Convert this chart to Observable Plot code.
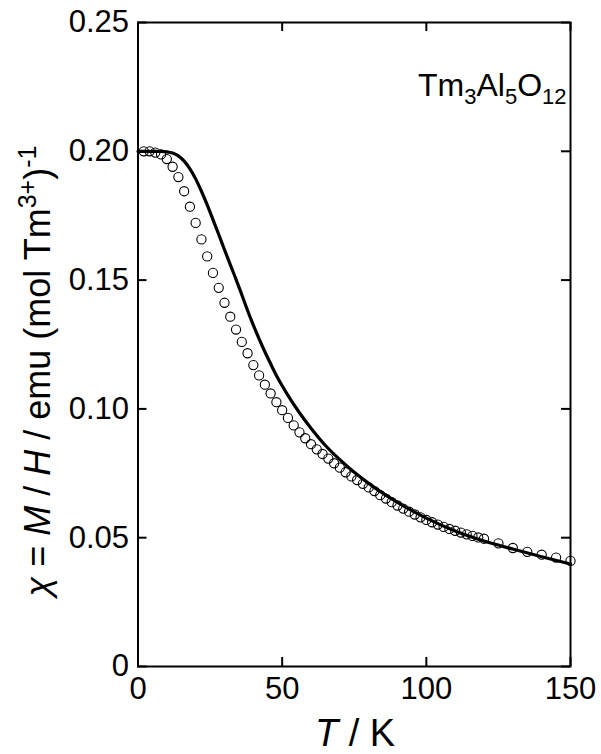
<!DOCTYPE html>
<html><head><meta charset="utf-8">
<script src="https://cdn.jsdelivr.net/npm/d3@7"></script>
<script src="https://cdn.jsdelivr.net/npm/@observablehq/plot@0.6"></script>
<style>body{margin:0;background:#fff;}</style>
</head><body><div id="chart"></div>
<script>
// Measured susceptibility (open circles)
const dataT = [2,4,6,8,10,12,14,16,18,20,22,24,26,28,30,32,34,36,38,40,42,44,46,48,50,52,54,56,58,60,62,64,66,68,70,72,74,76,78,80,82,84,86,88,90,92,94,96,98,100,102,104,106,108,110,112,114,116,118,120,125,130,135,140,145,150];
const dataChi = [0.2000,0.2000,0.1995,0.1988,0.1970,0.1940,0.1900,0.1845,0.1785,0.1722,0.1658,0.1592,0.1528,0.1470,0.1412,0.1358,0.1308,0.1260,0.1216,0.1170,0.1130,0.1094,0.1060,0.1026,0.0995,0.0965,0.0936,0.0909,0.0886,0.0863,0.0843,0.0825,0.0807,0.0789,0.0772,0.0754,0.0738,0.0724,0.0709,0.0695,0.0681,0.0665,0.0652,0.0638,0.0625,0.0613,0.0601,0.0590,0.0579,0.0569,0.0560,0.0551,0.0542,0.0534,0.0527,0.0520,0.0513,0.0507,0.0501,0.0496,0.0478,0.0460,0.0445,0.0434,0.0423,0.0410];
// Calculated curve (solid line)
const fitT = [0,4,8,10,12,14,16,18,20,22,24,26,28,30,32,34,36,38,40,42,44,46,48,50,53,56,60,65,70,75,80,85,90,95,100,110,120,130,140,150];
const fitChi = [0.2000,0.2000,0.2000,0.1998,0.1993,0.1982,0.1962,0.1932,0.1893,0.1845,0.1792,0.1735,0.1677,0.1618,0.1560,0.1503,0.1443,0.1382,0.1325,0.1272,0.1222,0.1175,0.1130,0.1090,0.1035,0.0985,0.0925,0.0858,0.0803,0.0754,0.0711,0.0672,0.0637,0.0605,0.0576,0.0526,0.0487,0.0456,0.0426,0.0398];
const xTicks = [0,50,100,150];
const yTicks = [0,0.05,0.10,0.15,0.20,0.25];
const yTickLabels = ["0","0.05","0.10","0.15","0.20","0.25"];

const points = dataT.map((t,i)=>({T:t, chi:dataChi[i]}));
const fit = fitT.map((t,i)=>({T:t, chi:fitChi[i]}));

const FONT = "'Liberation Sans', Arial, sans-serif";
const svg = Plot.plot({
  width: 601, height: 754,
  marginLeft: 137.5, marginRight: 31, marginTop: 22, marginBottom: 88,
  style: {fontFamily: FONT, background: "#fff", color: "#000", overflow: "visible"},
  x: {domain:[0,150], label: null},
  y: {domain:[0,0.25], label: null},
  marks: [
    Plot.axisX(xTicks, {tickSize: 0, tickPadding: 10, fontSize: 31, label: null}),
    Plot.axisY(yTicks, {tickSize: 0, tickPadding: 9, fontSize: 31, label: null,
      tickFormat: d => yTickLabels[yTicks.indexOf(d)]}),
    Plot.ruleX(xTicks, {x: d=>d, y1: () => 0, y2: () => 0, insetBottom: 9, strokeWidth: 2, stroke: "black"}),
    Plot.ruleX(xTicks, {x: d=>d, y1: () => 0.25, y2: () => 0.25, insetTop: 9, strokeWidth: 2, stroke: "black"}),
    Plot.ruleY(yTicks, {y: d=>d, x1: () => 0, x2: () => 0, insetRight: -9, strokeWidth: 2, stroke: "black"}),
    Plot.ruleY(yTicks, {y: d=>d, x1: () => 150, x2: () => 150, insetLeft: -9, strokeWidth: 2, stroke: "black"}),
    Plot.frame({stroke: "black", strokeWidth: 2}),
    Plot.line(fit, {x: "T", y: "chi", stroke: "black", strokeWidth: 3.2, curve: "monotone-x"}),
    Plot.dot(points, {x: "T", y: "chi", r: 4.6, stroke: "black", strokeWidth: 1.1, fill: "none"})
  ]
});
document.getElementById("chart").appendChild(svg);

const s = d3.select(svg);
// x title
const xt = s.append("text").attr("x", 355).attr("y", 746).attr("text-anchor", "middle")
  .attr("font-family", FONT).attr("font-size", 38).attr("fill", "black");
xt.append("tspan").attr("font-style", "italic").text("T");
xt.append("tspan").text(" / K");
// y title
const yt = s.append("text").attr("transform", "translate(50,371) rotate(-90)").attr("text-anchor", "middle")
  .attr("font-family", FONT).attr("font-size", 36).attr("fill", "black");
yt.append("tspan").attr("font-style", "italic").text("χ");
yt.append("tspan").text(" = ");
yt.append("tspan").attr("font-style", "italic").text("M");
yt.append("tspan").text(" / ");
yt.append("tspan").attr("font-style", "italic").text("H");
yt.append("tspan").text(" / emu (mol Tm");
yt.append("tspan").attr("font-size", 25).attr("dy", -14).text("3+");
yt.append("tspan").attr("dy", 14).text(")");
yt.append("tspan").attr("font-size", 25).attr("dy", -14).text("-1");
// compound annotation
const an = s.append("text").attr("x", 418).attr("y", 96).attr("text-anchor", "start")
  .attr("font-family", FONT).attr("font-size", 32).attr("fill", "black");
an.append("tspan").text("Tm");
an.append("tspan").attr("font-size", 22).attr("dy", 8).text("3");
an.append("tspan").attr("dy", -8).text("Al");
an.append("tspan").attr("font-size", 22).attr("dy", 8).text("5");
an.append("tspan").attr("dy", -8).text("O");
an.append("tspan").attr("font-size", 22).attr("dy", 8).text("12");
</script>
</body></html>
